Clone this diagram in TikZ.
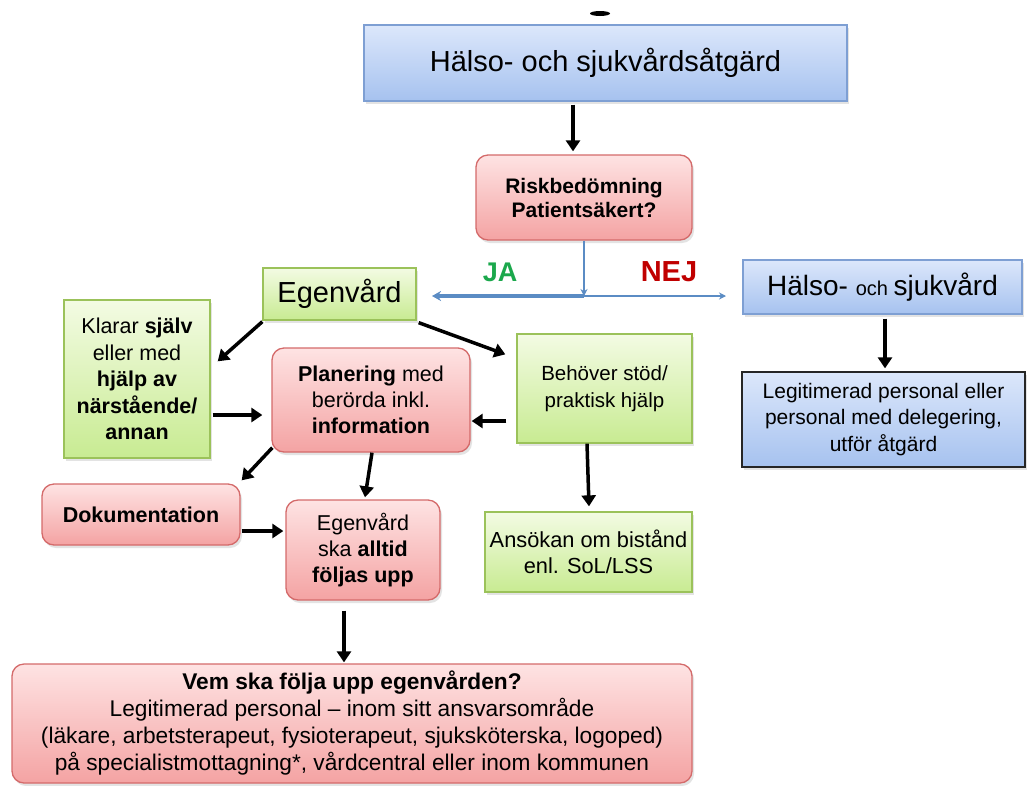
\documentclass[tikz,border=0pt]{standalone}
\usepackage{fontspec}
\setmainfont{Liberation Sans}
\usetikzlibrary{arrows.meta,calc,shadows}
\definecolor{bluetop}{HTML}{DCE7FB}
\definecolor{bluebot}{HTML}{A6C2EF}
\definecolor{blueedge}{HTML}{7E9FD3}
\definecolor{redtop}{HTML}{FEE3E3}
\definecolor{redbot}{HTML}{F4A3A3}
\definecolor{rededge}{HTML}{D46A6A}
\definecolor{greentop}{HTML}{F3FBE3}
\definecolor{greenbot}{HTML}{C8EB92}
\definecolor{greenedge}{HTML}{9BC25A}
\definecolor{lineblue}{HTML}{5B8CC4}
\definecolor{jagreen}{HTML}{1BA84C}
\definecolor{nejred}{HTML}{C00000}
\newcommand{\myfs}[2]{\fontsize{#1pt}{#2pt}\selectfont}
\tikzset{
  base/.style={inner sep=2pt, align=center, line width=1.3pt,
    drop shadow={opacity=0.22, shadow xshift=2pt, shadow yshift=-3pt}},
  bluebox/.style={base, draw=blueedge, top color=bluetop, bottom color=bluebot},
  redbox/.style={base, draw=rededge, top color=redtop, bottom color=redbot, rounded corners=12pt},
  greenbox/.style={base, draw=greenedge, top color=greentop, bottom color=greenbot},
  sz/.style 2 args={minimum width=#1pt, minimum height=#2pt},
  arr/.style={line width=3.5pt, black, -{Triangle[length=11pt,width=14pt]}},
  bluearr/.style={lineblue, -{Stealth[length=7pt,width=7pt]}}
}
\begin{document}
\begin{tikzpicture}[x=1pt,y=-1pt]
\useasboundingbox (0,0) rectangle (1027,785);
\fill[white] (0,0) rectangle (1027,785);
% fragment of cut-off title
\fill[black] (600,13.5) ellipse (10 and 2.5);

\node[bluebox, sz={483}{76}, font=\myfs{29}{34}] (top) at (605.5,63) {Hälso- och sjukvårdsåtgärd};
\node[redbox, sz={216}{85}, font=\bfseries\myfs{21}{24}] (risk) at (584,197.5) {Riskbedömning\\Patientsäkert?};
\node[greenbox, sz={153}{52}, font=\myfs{29}{34}] (ego) at (339.5,294) {Egenvård};
\node[bluebox, sz={279}{54}] (hs) at (882.5,287) {{\myfs{28}{32}Hälso- }{\myfs{20}{32}och }{\myfs{28}{32}sjukvård}};
\node[bluebox, draw=black!85, sz={283}{95}, font=\myfs{21}{26.5}] (legit) at (883.5,419.5) {Legitimerad personal eller\\personal med delegering,\\utför åtgärd};
\node[greenbox, sz={146}{158}, font=\myfs{21.5}{26.5}] (klarar) at (137,379) {Klarar \textbf{själv}\\eller med\\\textbf{hjälp av}\\\textbf{närstående/}\\\textbf{annan}};
\node[redbox, sz={198}{104}, font=\myfs{21.5}{26}] (plan) at (371,400) {\textbf{Planering} med\\berörda inkl.\\\textbf{information}};
\node[greenbox, sz={175}{109}, font=\myfs{20.5}{26.5}] (beh) at (604.5,388.5) {Behöver stöd/\\praktisk hjälp};
\node[redbox, sz={198}{61}, font=\bfseries\myfs{21.5}{24}] (doku) at (141,514.5) {Dokumentation};
\node[redbox, sz={154}{100}, font=\myfs{21.5}{26}] (egska) at (363,550) {Egenvård\\ska \textbf{alltid}\\\textbf{följas upp}};
\node[greenbox, sz={207}{80}, font=\myfs{21.8}{26}] (ans) at (588.5,552) {Ansökan om bistånd\\enl. SoL/LSS};
\node[redbox, sz={680}{119}, font=\myfs{22.7}{27}] (bottom) at (352,723.5) {\textbf{Vem ska följa upp egenvården?}\\Legitimerad personal – inom sitt ansvarsområde\\(läkare, arbetsterapeut, fysioterapeut, sjuksköterska, logoped)\\på specialistmottagning*, vårdcentral eller inom kommunen};

% JA / NEJ branch
\coordinate (J) at (risk.south |- 0,296);
\coordinate (jaend) at (432,296);
\coordinate (nejend) at (726,296);
\draw[bluearr, line width=2.3pt] (risk.south) -- (J);
\draw[bluearr, line width=4pt, -{Stealth[length=9pt,width=10pt]}] (J) -- (jaend);
\draw[bluearr, line width=2.5pt] (J) -- (nejend);
\node[font=\bfseries\myfs{27}{30}, text=jagreen] (ja) at (500,272) {JA};
\node[font=\bfseries\myfs{29}{32}, text=nejred] (nej) at (669,272) {NEJ};

% black arrows
\draw[arr] ($(top.south)+(-32.5,3)$) -- ($(risk.north)+(-11,-3)$);
\draw[arr] ($(ego.south west)+(0,1)$) -- ($(klarar.north east)+(7,62)$);
\draw[arr] ($(ego.south east)+(2,2)$) -- ($(beh.north west)+(-11,21)$);
\draw[arr] ($(klarar.east)+(2,36)$) -- ($(plan.west)+(-9,15)$);
\draw[arr] ($(beh.west)+(-10,32.5)$) -- ($(plan.east)+(1,21)$);
\draw[arr] ($(plan.south west)+(1,-5)$) -- ($(doku.north east)+(1,-3)$);
\draw[arr] ($(plan.south)+(1,0)$) -- ($(egska.north)+(2,-2)$);
\draw[arr] ($(beh.south)+(-17.5,0)$) -- ($(ans.north)+(0.5,-5)$);
\draw[arr] ($(doku.east)+(1,16.5)$) -- ($(egska.west)+(-2,-19)$);
\draw[arr] ($(egska.south)+(-19,10)$) -- ($(bottom.north)+(-8,-1)$);
\draw[arr] ($(hs.south)+(2.5,4)$) -- ($(legit.north)+(1.5,-3)$);
\end{tikzpicture}
\end{document}
